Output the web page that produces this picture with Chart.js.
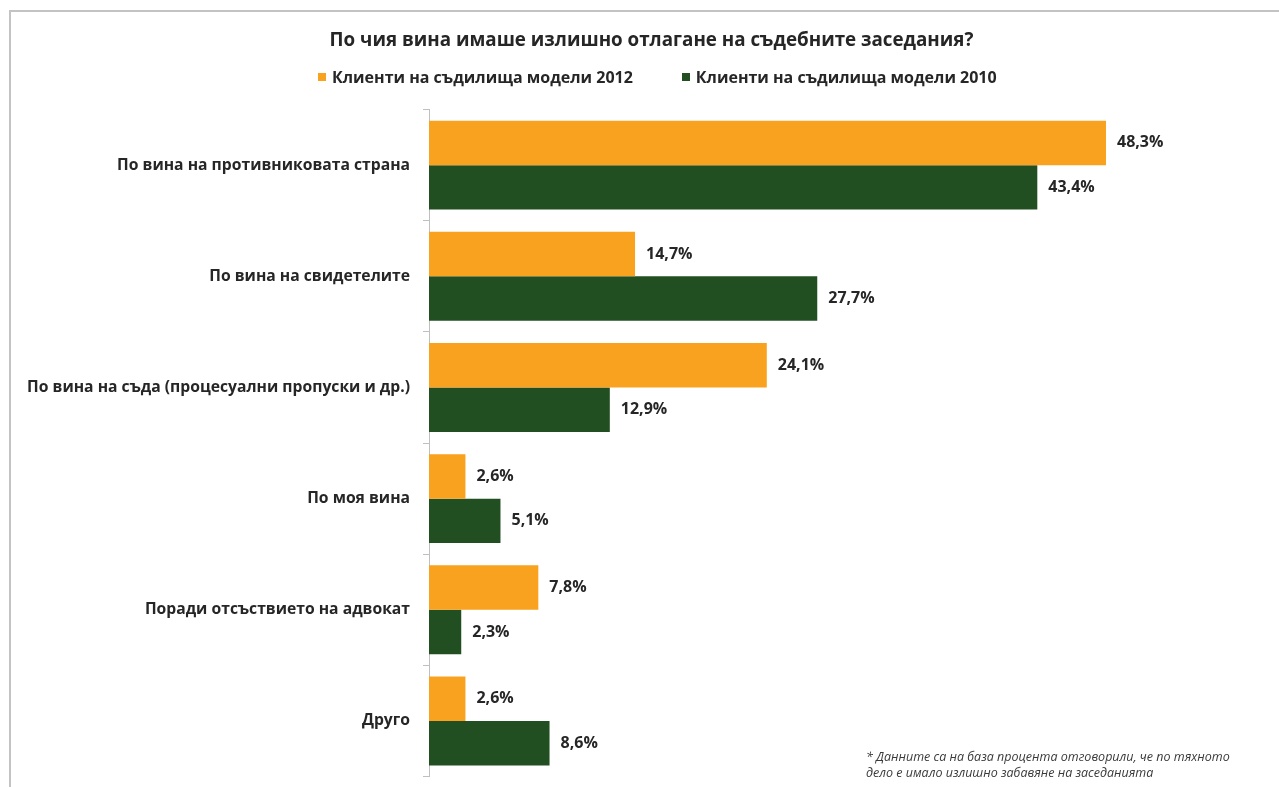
<!DOCTYPE html>
<html lang="bg">
<head>
<meta charset="utf-8">
<title>По чия вина имаше излишно отлагане на съдебните заседания?</title>
<script src="https://cdn.jsdelivr.net/npm/chart.js@4"></script>
<style>
  html, body { margin: 0; padding: 0; background: #fff; overflow: hidden; }
  #wrap {
    position: absolute; left: 9px; top: 10px; width: 1270px; height: 777px;
    border-top: 2px solid #c3c3c3; border-left: 2px solid #c3c3c3;
  }
  #chart { position: absolute; left: 0; top: 0; }
  #legend {
    position: absolute; left: 307px; top: 54px; display: flex; gap: 49px;
    font: bold 16px 'Open Sans', sans-serif; color: #262626;
  }
  #legend .item { display: flex; align-items: center; }
  #legend .box { width: 8px; height: 8px; margin-right: 6px; }
  #note {
    position: absolute; left: 855px; top: 737px;
    font: italic 12.5px 'Open Sans', sans-serif; color: #3a3a3a; line-height: 16px;
  }
</style>
</head>
<body>
<div id="wrap">
  <canvas id="chart" width="1273" height="787"></canvas>
  <div id="legend"></div>
  <div id="note">* Данните са на база процента отговорили, че по тяхното<br>дело е имало излишно забавяне на заседанията</div>
</div>
<script>
const categorias = [
  'По вина на противниковата страна',
  'По вина на свидетелите',
  'По вина на съда (процесуални пропуски и др.)',
  'По моя вина',
  'Поради отсъствието на адвокат',
  'Друго'
];
const valores2012 = [48.3, 14.7, 24.1, 2.6, 7.8, 2.6];
const valores2010 = [43.4, 27.7, 12.9, 5.1, 2.3, 8.6];

const naranja = '#f9a21f';
const verde = '#224f22';
const texto = '#262626';

Chart.defaults.font.family = "'Open Sans', sans-serif";
Chart.defaults.color = texto;

// etiquetas de valor al final de cada barra
const etiquetas = {
  id: 'etiquetas',
  afterDatasetsDraw(chart) {
    const ctx = chart.ctx;
    ctx.save();
    ctx.font = 'bold 16px "Open Sans", sans-serif';
    ctx.fillStyle = texto;
    ctx.textAlign = 'left';
    ctx.textBaseline = 'middle';
    chart.data.datasets.forEach((ds, i) => {
      chart.getDatasetMeta(i).data.forEach((bar, j) => {
        const txt = ds.data[j].toFixed(1).replace('.', ',') + '%';
        ctx.fillText(txt, bar.x + 11, bar.y);
      });
    });
    ctx.restore();
  }
};

const chart = new Chart(document.getElementById('chart'), {
  type: 'bar',
  data: {
    labels: categorias,
    datasets: [
      { label: 'Клиенти на съдилища модели 2012', data: valores2012, backgroundColor: naranja },
      { label: 'Клиенти на съдилища модели 2010', data: valores2010, backgroundColor: verde }
    ]
  },
  options: {
    indexAxis: 'y',
    responsive: false,
    animation: false,
    layout: { padding: { left: 8, right: 0, top: 0, bottom: 0 } },
    datasets: { bar: { categoryPercentage: 0.8, barPercentage: 1 } },
    plugins: {
      title: {
        display: true,
        text: 'По чия вина имаше излишно отлагане на съдебните заседания?',
        font: { size: 18.8, weight: 'bold' },
        color: texto,
        padding: { top: 17, bottom: 58 }
      },
      legend: { display: false },
      tooltip: { enabled: false }
    },
    scales: {
      x: { display: false, min: 0, max: 61 },
      y: {
        afterFit: s => { s.width = 410; },
        grid: { offset: true, drawOnChartArea: false, tickLength: 6, color: '#bfbfbf' },
        border: { color: '#bfbfbf' },
        ticks: { padding: 13, font: { size: 15.7, weight: 'bold' }, color: texto }
      }
    }
  },
  plugins: [etiquetas]
});

// leyenda en HTML a partir de los datasets
const leyenda = document.getElementById('legend');
chart.data.datasets.forEach(ds => {
  const item = document.createElement('div');
  item.className = 'item';
  item.innerHTML = `<span class="box" style="background:${ds.backgroundColor}"></span>${ds.label}`;
  leyenda.appendChild(item);
});
</script>
</body>
</html>
